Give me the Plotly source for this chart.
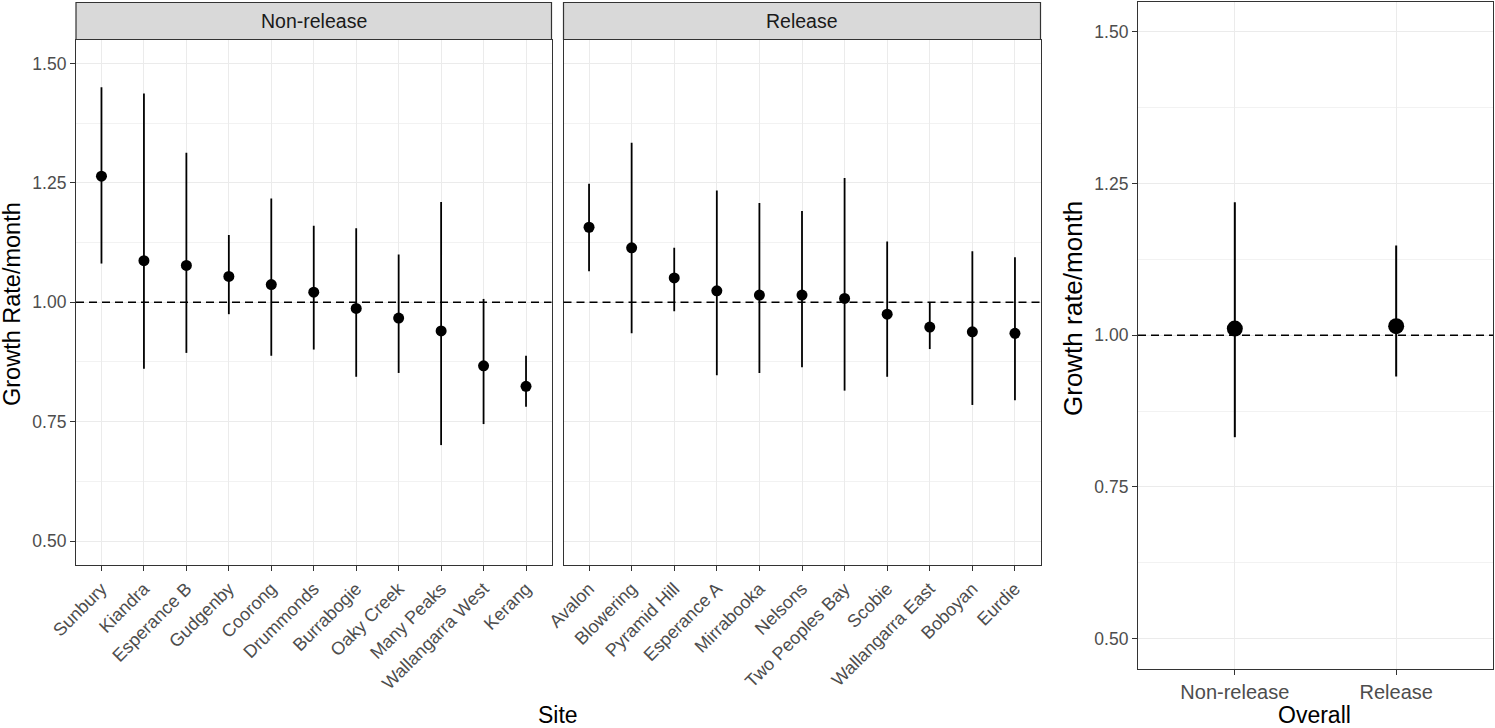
import plotly.graph_objects as go

# ---- data ----
nr_sites = ["Sunbury", "Kiandra", "Esperance B", "Gudgenby", "Coorong", "Drummonds",
            "Burrabogie", "Oaky Creek", "Many Peaks", "Wallangarra West", "Kerang"]
nr_est = [1.264, 1.087, 1.077, 1.054, 1.037, 1.021, 0.987, 0.967, 0.940, 0.867, 0.824]
nr_low = [1.081, 0.861, 0.894, 0.975, 0.888, 0.901, 0.844, 0.852, 0.701, 0.745, 0.781]
nr_high = [1.450, 1.437, 1.313, 1.141, 1.217, 1.160, 1.155, 1.100, 1.210, 1.007, 0.888]

r_sites = ["Avalon", "Blowering", "Pyramid Hill", "Esperance A", "Mirrabooka", "Nelsons",
           "Two Peoples Bay", "Scobie", "Wallangarra East", "Boboyan", "Eurdie"]
r_est = [1.157, 1.114, 1.051, 1.024, 1.015, 1.015, 1.008, 0.975, 0.948, 0.938, 0.935]
r_low = [1.065, 0.935, 0.981, 0.847, 0.852, 0.864, 0.815, 0.844, 0.902, 0.785, 0.795]
r_high = [1.248, 1.334, 1.114, 1.234, 1.208, 1.191, 1.260, 1.127, 1.000, 1.107, 1.094]

overall_groups = ["Non-release", "Release"]
overall_est = [1.011, 1.015]
overall_low = [0.832, 0.932]
overall_high = [1.219, 1.148]

facet_labels = ["Non-release", "Release"]
y_ticks = [0.50, 0.75, 1.00, 1.25, 1.50]

W, H = 1495, 728
FONT = "Liberation Sans, Arial, sans-serif"


def px_x(p):
    return p / W


def px_y(p):
    return 1 - p / H


fig = go.Figure()


def add_series(cats, est, low, high, xa, ya, size, thick):
    fig.add_trace(go.Scatter(
        x=cats, y=est, mode="markers", xaxis=xa, yaxis=ya,
        marker=dict(color="black", size=size),
        error_y=dict(type="data", symmetric=False,
                     array=[h - e for h, e in zip(high, est)],
                     arrayminus=[e - l for e, l in zip(est, low)],
                     width=0, thickness=thick, color="black"),
        showlegend=False, hoverinfo="skip"))


add_series(nr_sites, nr_est, nr_low, nr_high, "x", "y", 11, 1.8)
add_series(r_sites, r_est, r_low, r_high, "x2", "y2", 11, 1.8)
add_series(overall_groups, overall_est, overall_low, overall_high, "x3", "y3", 16, 2)

axis_common = dict(showline=True, linecolor="#333333", linewidth=1.2, mirror=True,
                   ticks="outside", ticklen=5, tickcolor="#333333", tickwidth=1.2,
                   showgrid=True, gridcolor="#EBEBEB", gridwidth=1.2, zeroline=False,
                   automargin=False)
minor_grid = dict(dtick=0.125, tick0=0.5, showgrid=True, gridcolor="#F2F2F2",
                  gridwidth=0.7, ticks="")

FX = [(76, 551.5), (563.5, 1040.5)]
top_dom = px_y(39.5)
bot_dom = px_y(565)

yfont = dict(family=FONT, size=17.5, color="#4D4D4D")
xfont = dict(family=FONT, size=18, color="#4D4D4D")

fig.update_layout(
    width=W, height=H, margin=dict(l=0, r=0, t=0, b=0),
    plot_bgcolor="white", paper_bgcolor="white",
    font=dict(family=FONT),
    xaxis={**axis_common, "domain": [px_x(FX[0][0]), px_x(FX[0][1])], "type": "category",
           "categoryorder": "array", "categoryarray": nr_sites, "range": [-0.6, 10.6],
           "tickangle": -45, "tickfont": xfont, "anchor": "y"},
    yaxis={**axis_common, "domain": [bot_dom, top_dom], "range": [0.45, 1.55],
           "tickvals": y_ticks, "tickformat": ".2f", "tickfont": yfont, "anchor": "x",
           "minor": minor_grid},
    xaxis2={**axis_common, "domain": [px_x(FX[1][0]), px_x(FX[1][1])], "type": "category",
            "categoryorder": "array", "categoryarray": r_sites, "range": [-0.6, 10.6],
            "tickangle": -45, "tickfont": xfont, "anchor": "y2"},
    yaxis2={**axis_common, "domain": [bot_dom, top_dom], "range": [0.45, 1.55],
            "tickvals": y_ticks, "showticklabels": False, "ticks": "", "anchor": "x2",
            "minor": minor_grid},
    xaxis3={**axis_common, "domain": [px_x(1138), px_x(1493)], "type": "category",
            "categoryorder": "array", "categoryarray": overall_groups, "range": [-0.6, 1.6],
            "tickfont": dict(family=FONT, size=20, color="#4D4D4D"), "anchor": "y3"},
    yaxis3={**axis_common, "domain": [px_y(669), px_y(1.5)], "range": [0.45, 1.55],
            "tickvals": y_ticks, "tickformat": ".2f", "tickfont": yfont, "anchor": "x3",
            "minor": minor_grid},
)

shapes = []
# reference dashed lines at 1
for xa, ya in [("x", "y"), ("x2", "y2"), ("x3", "y3")]:
    shapes.append(dict(type="line", xref=f"{xa} domain", yref=ya, x0=0, x1=1, y0=1, y1=1,
                       line=dict(color="black", width=1.6, dash="8px,5px"), layer="above"))
# strips
for x0, x1 in FX:
    shapes.append(dict(type="rect", xref="paper", yref="paper",
                       x0=px_x(x0), x1=px_x(x1), y0=top_dom, y1=px_y(2.5),
                       fillcolor="#D9D9D9", line=dict(color="#333333", width=1.2)))
fig.update_layout(shapes=shapes)

annotations = []
for (x0, x1), lab in zip(FX, facet_labels):
    annotations.append(dict(text=lab, xref="paper", yref="paper", x=px_x((x0 + x1) / 2),
                            y=px_y(21), showarrow=False, xanchor="center", yanchor="middle",
                            font=dict(family=FONT, size=19.5, color="#1A1A1A")))
annotations += [
    dict(text="Growth Rate/month", xref="paper", yref="paper", x=px_x(12), y=px_y(304),
         textangle=-90, showarrow=False, xanchor="center", yanchor="middle",
         font=dict(family=FONT, size=23.5, color="black")),
    dict(text="Growth rate/month", xref="paper", yref="paper", x=px_x(1073), y=px_y(309),
         textangle=-90, showarrow=False, xanchor="center", yanchor="middle",
         font=dict(family=FONT, size=26, color="black")),
    dict(text="Site", xref="paper", yref="paper", x=px_x(558), y=0,
         showarrow=False, xanchor="center", yanchor="bottom", yshift=-2,
         font=dict(family=FONT, size=23, color="black")),
    dict(text="Overall", xref="paper", yref="paper", x=px_x(1314), y=0,
         showarrow=False, xanchor="center", yanchor="bottom", yshift=-2,
         font=dict(family=FONT, size=23, color="black")),
]
fig.update_layout(annotations=annotations)

fig.write_html(
    "out.html",
    config={"displayModeBar": False},
    post_script="document.body.style.margin='0px';document.body.style.overflow='hidden';",
)
